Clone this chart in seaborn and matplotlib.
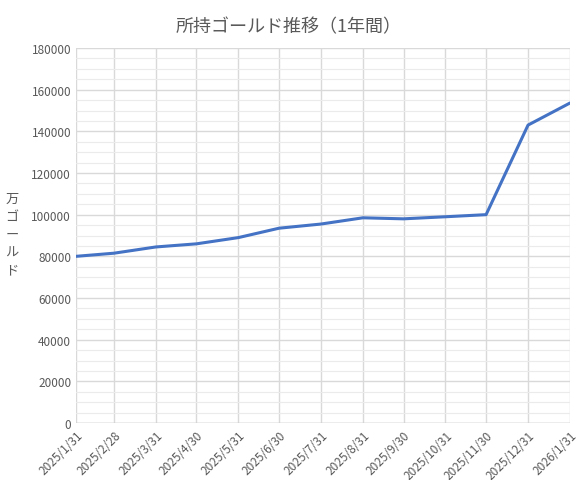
import matplotlib
matplotlib.use("Agg")
import matplotlib.pyplot as plt
import seaborn as sns
import pandas as pd
from matplotlib.ticker import MultipleLocator

dates = ["2025/1/31","2025/2/28","2025/3/31","2025/4/30","2025/5/31","2025/6/30","2025/7/31",
         "2025/8/31","2025/9/30","2025/10/31","2025/11/30","2025/12/31","2026/1/31"]
gold = [80000,81500,84500,86000,89000,93500,95500,98500,98000,99000,100000,143000,153600]

sns.set_style("white")
plt.rcParams['font.family'] = ['Noto Sans CJK JP', 'DejaVu Sans']
df = pd.DataFrame({"date": pd.to_datetime(dates), "gold": gold})

fig = plt.figure(figsize=(5.77, 4.81), dpi=100)
ax = fig.add_axes([76/577, 1-424/481, 494/577, 375/481])
sns.lineplot(data=df, x="date", y="gold", ax=ax, color="#4472C4", linewidth=2.2)
ax.set_xlim(df.date.iloc[0], df.date.iloc[-1])
ax.set_ylim(0, 180000)
ax.yaxis.set_major_locator(MultipleLocator(20000))
ax.yaxis.set_minor_locator(MultipleLocator(5000))
ax.set_xticks(df.date)
ax.set_xticklabels(dates, rotation=45, ha="right", rotation_mode="anchor", fontsize=8.5, color="#595959")
ax.tick_params(axis="y", labelsize=8.5, colors="#595959", length=0)
ax.tick_params(axis="x", length=0, pad=4)
ax.grid(True, which="major", color="#D9D9D9", linewidth=1)
ax.grid(True, which="minor", axis="y", color="#EBEBEB", linewidth=0.8)
for s in ax.spines.values():
    s.set_visible(False)
ax.axhline(0, color="#BFBFBF", linewidth=1)
ax.set_xlabel("")
ax.set_ylabel("")
fig.text(12/577, 1-235/481, "万\nゴ\nー\nル\nド", ha="center", va="center", fontsize=9.5,
         color="#595959", linespacing=1.5)
fig.suptitle("所持ゴールド推移（1年間）", y=1-18/481, fontsize=13, color="#595959")
fig.savefig("out.png", dpi=100)
